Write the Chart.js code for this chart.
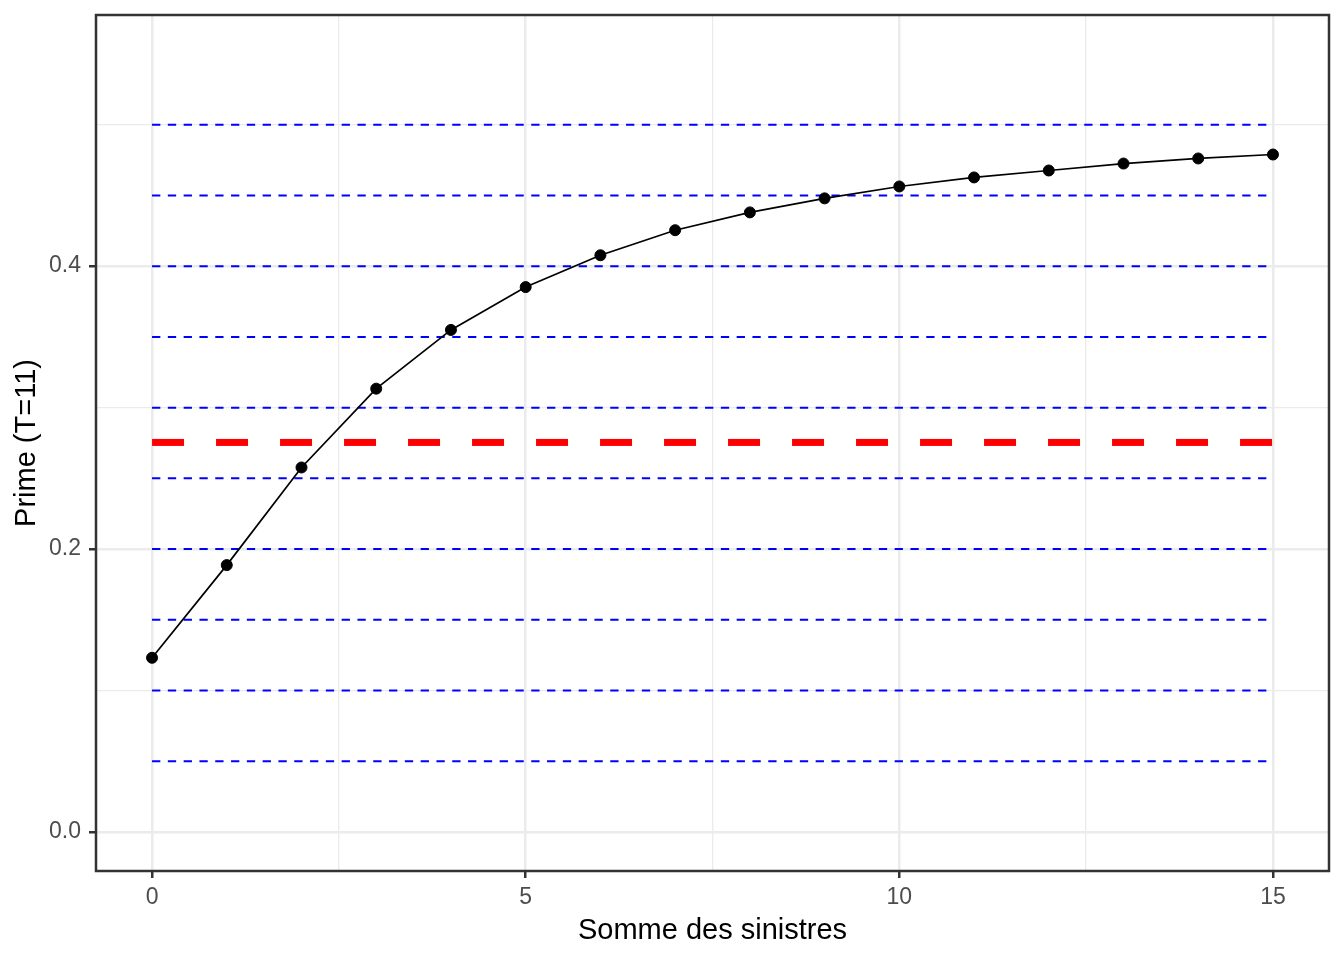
<!DOCTYPE html>
<html><head><meta charset="utf-8">
<script src="https://cdn.jsdelivr.net/npm/chart.js@4"></script>
<style>html,body{margin:0;padding:0;background:#fff;} canvas{display:block;}</style>
</head><body>
<canvas id="c" width="1344" height="960"></canvas>
<script>
// ---- data ----
const sommes = [0,1,2,3,4,5,6,7,8,9,10,11,12,13,14,15];
const primes = [0.1232,0.1887,0.2577,0.3134,0.3549,0.3852,0.4077,0.4254,0.4380,0.4479,0.4563,0.4627,0.4676,0.4725,0.4761,0.4789];
const seuils = [0.05,0.10,0.15,0.20,0.25,0.30,0.35,0.40,0.45,0.50];
const primeMoyenne = 0.2754;
const xTickValues = [0,2.5,5,7.5,10,12.5,15];
const xTickLabels = ['0','','5','','10','','15'];
const yTickValues = [0,0.1,0.2,0.3,0.4,0.5];
const yTickLabels = ['0.0','','0.2','','0.4',''];
const xMin = -0.75, xMax = 15.75;
const yMin = -0.0275, yMax = 0.5775;

const FONT = "'Liberation Sans', Arial, sans-serif";
const xFirst = sommes[0], xLast = sommes[sommes.length - 1];

const datasets = [];
seuils.forEach(s => {
  datasets.push({
    data: [{x: xFirst, y: s}, {x: xLast, y: s}],
    borderColor: '#0000FF', borderWidth: 2, borderDash: [8.3, 7.5],
    pointRadius: 0, fill: false, order: 3
  });
});
datasets.push({
  data: [{x: xFirst, y: primeMoyenne}, {x: xLast, y: primeMoyenne}],
  borderColor: '#FF0000', borderWidth: 7, borderDash: [32, 32],
  pointRadius: 0, fill: false, order: 2
});
datasets.push({
  data: sommes.map((s, i) => ({x: s, y: primes[i]})),
  borderColor: '#000000', borderWidth: 1.7,
  pointRadius: 5.5, pointBorderWidth: 1,
  pointBackgroundColor: '#000000', pointBorderColor: '#000000',
  fill: false, tension: 0, order: 1
});

const panelBorder = {
  id: 'panelBorder',
  afterDraw(chart) {
    const {ctx, chartArea: a} = chart;
    ctx.save();
    ctx.strokeStyle = '#333333';
    ctx.lineWidth = 2.5;
    ctx.strokeRect(a.left, a.top, a.right - a.left, a.bottom - a.top);
    ctx.restore();
  }
};

const isMajor = ctx => ctx.index % 2 === 0;

new Chart(document.getElementById('c'), {
  type: 'line',
  data: { datasets },
  plugins: [panelBorder],
  options: {
    responsive: false,
    animation: false,
    devicePixelRatio: 1,
    layout: { padding: { left: 0, top: 15, right: 15, bottom: 0 } },
    plugins: { legend: { display: false }, tooltip: { enabled: false } },
    scales: {
      x: {
        type: 'linear', min: xMin, max: xMax,
        afterBuildTicks: s => { s.ticks = xTickValues.map(v => ({value: v})); },
        afterFit: s => { s.height = 89; s.paddingLeft = 0; s.paddingRight = 0; },
        ticks: {
          autoSkip: false, maxRotation: 0, padding: 6,
          color: '#4D4D4D', font: { family: FONT, size: 23 },
          callback: (v, i) => xTickLabels[i]
        },
        grid: {
          color: '#EBEBEB',
          lineWidth: c => isMajor(c) ? 2.5 : 1.3,
          tickColor: c => isMajor(c) ? '#333333' : 'rgba(0,0,0,0)',
          tickWidth: 2.5, tickLength: 7, drawTicks: true
        },
        border: { display: false },
        title: {
          display: true, text: 'Somme des sinistres', color: '#000000',
          font: { family: FONT, size: 29 }, padding: { top: 0, bottom: 12 }
        }
      },
      y: {
        type: 'linear', min: yMin, max: yMax,
        afterBuildTicks: s => { s.ticks = yTickValues.map(v => ({value: v})); },
        afterFit: s => { s.width = 96; s.paddingTop = 0; s.paddingBottom = 0; },
        ticks: {
          autoSkip: false, padding: 8,
          color: '#4D4D4D', font: { family: FONT, size: 23 },
          callback: (v, i) => yTickLabels[i]
        },
        grid: {
          color: '#EBEBEB',
          lineWidth: c => isMajor(c) ? 2.5 : 1.3,
          tickColor: c => isMajor(c) ? '#333333' : 'rgba(0,0,0,0)',
          tickWidth: 2.5, tickLength: 7, drawTicks: true
        },
        border: { display: false },
        title: {
          display: true, text: 'Prime (T=11)', color: '#000000',
          font: { family: FONT, size: 29 }, padding: { top: 10, bottom: 0 }
        }
      }
    }
  }
});
</script>
</body></html>
